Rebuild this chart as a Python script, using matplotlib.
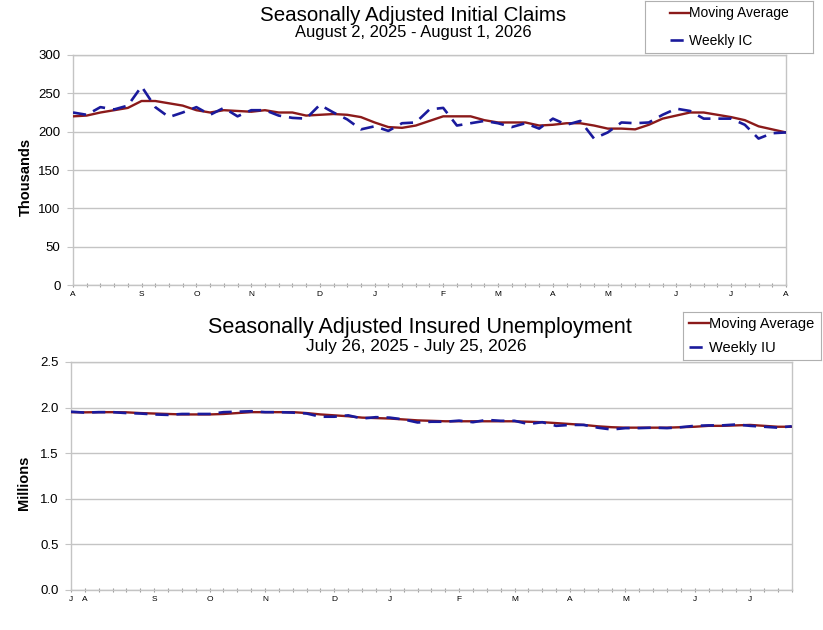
import numpy as np
import pandas as pd
import matplotlib
matplotlib.use("Agg")
import matplotlib.pyplot as plt
from matplotlib.lines import Line2D

plt.rcParams['font.family'] = ['Liberation Sans', 'DejaVu Sans']

# weekly initial claims, thousands (weeks ending Aug 2, 2025 .. Aug 1, 2026)
ic_start = "2025-08-02"
ic_weekly = [225, 222, 232, 229, 234, 259, 232, 219, 225, 232, 222, 231, 220,
             228, 228, 221, 218, 217, 235, 225, 216, 203, 207, 201, 211, 212,
             229, 231, 208, 211, 214, 211, 206, 211, 204, 217, 209, 214, 191,
             199, 212, 211, 212, 222, 230, 227, 217, 217, 217, 209, 191, 198, 199]
ic_ma = [220, 221, 225, 228, 231, 240, 240, 237, 234, 228, 225, 228, 227,
         226, 228, 225, 225, 221, 222, 223, 222, 219, 212, 206, 205, 208,
         214, 220, 220, 220, 215, 212, 212, 212, 208, 209, 211, 211, 208,
         204, 204, 203, 209, 217, 221, 225, 225, 222, 219, 215, 207, 203, 199]

# weekly insured unemployment, millions (weeks ending Jul 26, 2025 .. Jul 25, 2026)
iu_start = "2025-07-26"
iu_weekly = [1.955, 1.945, 1.95, 1.95, 1.94, 1.935, 1.925, 1.92, 1.93, 1.93,
             1.93, 1.95, 1.955, 1.96, 1.95, 1.95, 1.945, 1.935, 1.90, 1.90,
             1.915, 1.88, 1.895, 1.89, 1.87, 1.837, 1.845, 1.845, 1.857, 1.84,
             1.865, 1.855, 1.855, 1.82, 1.84, 1.80, 1.81, 1.81, 1.78, 1.76,
             1.775, 1.775, 1.78, 1.775, 1.785, 1.80, 1.805, 1.805, 1.815, 1.80,
             1.79, 1.78, 1.795]
iu_ma = [1.95, 1.948, 1.95, 1.95, 1.948, 1.94, 1.935, 1.93, 1.925, 1.925,
         1.925, 1.93, 1.94, 1.95, 1.95, 1.95, 1.95, 1.94, 1.925, 1.915,
         1.905, 1.89, 1.885, 1.88, 1.87, 1.86, 1.855, 1.85, 1.85, 1.85,
         1.85, 1.85, 1.85, 1.845, 1.84, 1.83, 1.82, 1.81, 1.795, 1.785,
         1.78, 1.78, 1.78, 1.78, 1.785, 1.79, 1.80, 1.80, 1.805, 1.81,
         1.80, 1.79, 1.79]

MA_COLOR = "#8b1a1a"
WK_COLOR = "#1a1a9c"
GRID = "#c4c4c4"


def month_labels(start, n):
    dates = pd.date_range(start, periods=n, freq="7D")
    labels = []
    prev = None
    for d in dates:
        labels.append(d.strftime("%B")[0] if d.month != prev else "")
        prev = d.month
    return labels


def draw_panel(ax, start, weekly, ma, ymax, ystep, yfmt, ylabel,
               title, sub, tpos, wk_name, leg_rect, leg_fs, leg_sp):
    n = len(weekly)
    x = np.arange(n)
    ax.plot(x, ma, color=MA_COLOR, lw=1.7, zorder=3)
    ax.plot(x, weekly, color=WK_COLOR, lw=1.9, dashes=(5, 3), zorder=4)
    ax.set_xlim(0, n - 1)
    ax.set_ylim(0, ymax)
    yt = np.arange(0, ymax + ystep / 2, ystep)
    ax.set_yticks(yt)
    ax.set_yticklabels([yfmt.format(v) for v in yt], fontsize=9.5)
    ax.set_xticks(x)
    ax.set_xticklabels(month_labels(start, n), fontsize=6)
    ax.yaxis.grid(True, color=GRID, lw=1)
    ax.set_axisbelow(True)
    for s in ax.spines.values():
        s.set_color(GRID)
        s.set_linewidth(1)
    ax.tick_params(axis="x", length=3, color="#999999", pad=3, direction="inout")
    ax.tick_params(axis="y", length=4, color=GRID, pad=5)
    ax.set_ylabel(ylabel, fontsize=10.5, fontweight="bold")
    ax.yaxis.set_label_coords(-0.056, 0.47)

    tx, ty, sx, sy, tfs, sfs = tpos
    ax.text(tx, ty, title, transform=ax.transAxes, ha="center",
            va="center", fontsize=tfs)
    ax.text(sx, sy, sub, transform=ax.transAxes, ha="center",
            va="center", fontsize=sfs)

    handles = [Line2D([], [], color=MA_COLOR, lw=1.7),
               Line2D([], [], color=WK_COLOR, lw=1.9, dashes=(5, 3))]
    fig = ax.figure
    lax = fig.add_axes(leg_rect)
    lax.set_xticks([])
    lax.set_yticks([])
    for s in lax.spines.values():
        s.set_color("#b0b0b0")
    lax.legend(handles, ["Moving Average", wk_name], loc="center",
               frameon=False, fontsize=leg_fs, handlelength=1.35,
               handletextpad=0.0, labelspacing=leg_sp)


fig = plt.figure(figsize=(8.23, 6.3), dpi=100)
ax1 = fig.add_axes([0.0887, 0.5476, 0.8663, 0.3651])
ax2 = fig.add_axes([0.0863, 0.0635, 0.8757, 0.3619])

draw_panel(ax1, ic_start, ic_weekly, ic_ma, 300, 50, "{:.0f}", "Thousands",
           "Seasonally Adjusted Initial Claims",
           "August 2, 2025 - August 1, 2026",
           (0.4776, 1.170, 0.477, 1.098, 14.8, 11.9), "Weekly IC",
           [0.784, 0.916, 0.204, 0.082], 10, 0.95)
draw_panel(ax2, iu_start, iu_weekly, iu_ma, 2.5, 0.5, "{:.1f}", "Millions",
           "Seasonally Adjusted Insured Unemployment",
           "July 26, 2025 - July 25, 2026",
           (0.484, 1.152, 0.4785, 1.066, 15.6, 12.4), "Weekly IU",
           [0.8296, 0.4286, 0.168, 0.0762], 10.5, 0.65)

fig.savefig("out.png", dpi=100)
